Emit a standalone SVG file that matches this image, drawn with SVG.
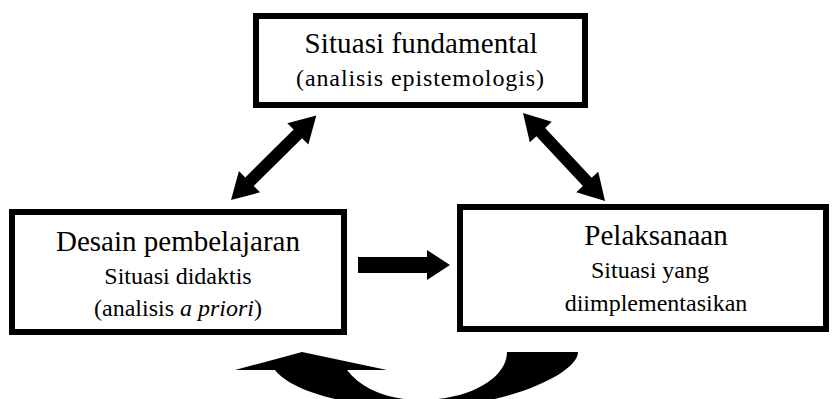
<svg xmlns="http://www.w3.org/2000/svg" width="835" height="399" viewBox="0 0 835 399">
  <style>
    .box { fill: #ffffff; stroke: #000000; stroke-width: 6; }
    .t { font-family: "Liberation Serif", "Times New Roman", serif; fill: #000000; text-anchor: middle; }
    .big { font-size: 29px; }
    .small { font-size: 24px; }
    .arrow { fill: #000000; stroke: none; }
  </style>
  <defs>
    <polygon id="dbl" points="0,0 26,-15 26,-6 94,-6 94,-15 120,0 94,15 94,6 26,6 26,15"/>
  </defs>

  <g id="connectors">
    <use href="#dbl" class="arrow" transform="translate(231,200) rotate(-44.7)"/>
    <use href="#dbl" class="arrow" transform="translate(523,113) rotate(47) scale(1.0025,1)"/>
    <polygon class="arrow" points="358,257 427,257 427,250 450,265 427,280 427,273 358,273"/>
    <path class="arrow" d="M 578,352 L 507,352 C 507,378 470,400 420,400 C 390,400 362,390 347,370 L 387,370 L 302,352 L 235,370 L 275,370 C 295,395 360,408 420,408 C 500,408 578,375 578,352 Z"/>
  </g>

  <g id="node-fundamental">
    <rect class="box" x="256" y="16" width="329" height="89"/>
    <text class="t big" x="421" y="53" textLength="233">Situasi fundamental</text>
    <text class="t small" x="420" y="86" textLength="248">(analisis epistemologis)</text>
  </g>

  <g id="node-desain">
    <rect class="box" x="12" y="212" width="332" height="120"/>
    <text class="t big" x="178" y="251">Desain pembelajaran</text>
    <text class="t small" x="178" y="284">Situasi didaktis</text>
    <text class="t small" x="178" y="316">(analisis <tspan font-style="italic">a priori</tspan>)</text>
  </g>

  <g id="node-pelaksanaan">
    <rect class="box" x="460" y="207" width="366" height="122"/>
    <text class="t big" x="656" y="245">Pelaksanaan</text>
    <text class="t small" x="650" y="278">Situasi yang</text>
    <text class="t small" x="656" y="311">diimplementasikan</text>
  </g>
</svg>
